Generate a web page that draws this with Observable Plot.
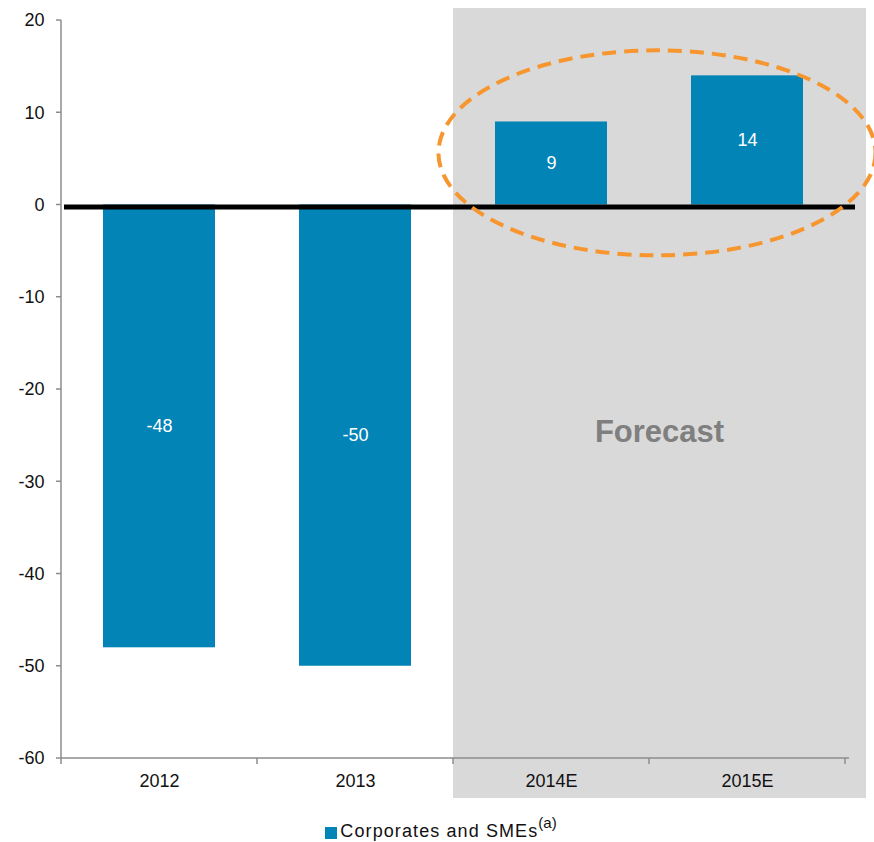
<!DOCTYPE html>
<html><head><meta charset="utf-8">
<script src="https://cdn.jsdelivr.net/npm/d3@7"></script>
<script src="https://cdn.jsdelivr.net/npm/@observablehq/plot@0.6"></script>
<style>
body{margin:0;background:#fff;font-family:"Liberation Sans",Arial,sans-serif;}
#chart svg{display:block;}
#legend{height:62px;display:flex;justify-content:center;align-items:center;font-size:18px;color:#111;padding-left:8px;}
#legend .sw{width:12px;height:12px;background:#0384b6;margin-right:3px;margin-top:3px;}
#legend .lt{letter-spacing:1.1px;line-height:20px;}
#legend sup{font-size:15px;letter-spacing:0;vertical-align:baseline;position:relative;top:-9px;}
</style></head><body>
<div id="chart"></div>
<div id="legend"></div>
<script>
const years = ["2012", "2013", "2014E", "2015E"];
const values = [-48, -50, 9, 14];
const forecastStart = "2014E";
const forecastLabel = "Forecast";
const yTicks = [20, 10, 0, -10, -20, -30, -40, -50, -60];
const seriesName = "Corporates and SMEs";
const seriesNote = "(a)";

const data = years.map((year, i) => ({year, value: values[i]}));
const BLUE = "#0384b6";
const NS = "http://www.w3.org/2000/svg";
function el(tag, attrs, text) {
  const e = document.createElementNS(NS, tag);
  for (const k in attrs) e.setAttribute(k, attrs[k]);
  if (text != null) e.textContent = text;
  return e;
}
function bandInfo(x) {
  const step = x(years[1]) - x(years[0]);
  const bw = typeof x.bandwidth === "function" ? x.bandwidth() : (x.bandwidth ?? step * 0.57);
  return {step, bw};
}

function backLayer(index, scales, vals, dims) {
  const {x, y} = scales;
  const {step, bw} = bandInfo(x);
  const g = el("g", {});
  const left = x(forecastStart) - (step - bw) / 2;
  const top = y(yTicks[0]) - 12;
  const bottom = y(yTicks[yTicks.length - 1]) + 40;
  g.appendChild(el("rect", {x: left, y: top, width: dims.width - 8 - left, height: bottom - top, fill: "#d9d9d9"}));
  return g;
}

function axisLayer(index, scales, vals, dims) {
  const {x, y} = scales;
  const {step, bw} = bandInfo(x);
  const g = el("g", {stroke: "#8c8c8c", "stroke-width": 1.5, fill: "none"});
  const x0 = dims.marginLeft;
  const yTop = y(yTicks[0]), yBot = y(yTicks[yTicks.length - 1]);
  g.appendChild(el("line", {x1: x0, x2: x0, y1: yTop, y2: yBot}));
  for (const t of yTicks) g.appendChild(el("line", {x1: x0 - 5, x2: x0, y1: y(t), y2: y(t)}));
  const xEnd = dims.width - dims.marginRight;
  g.appendChild(el("line", {x1: x0, x2: xEnd + 4, y1: yBot, y2: yBot}));
  for (let i = 0; i <= years.length; i++) {
    const bx = i < years.length ? x(years[i]) - (step - bw) / 2 : xEnd;
    g.appendChild(el("line", {x1: bx, x2: bx, y1: yBot, y2: yBot + 6}));
  }
  return g;
}

function frontLayer(index, scales, vals, dims) {
  const {x, y} = scales;
  const {step, bw} = bandInfo(x);
  const g = el("g", {});
  const x0 = dims.marginLeft;
  g.appendChild(el("line", {x1: x0 + 3, x2: dims.width - dims.marginRight + 10, y1: y(0) + 2.5, y2: y(0) + 2.5, stroke: "#000", "stroke-width": 5}));
  const c1 = x(years[2]) + bw / 2, c2 = x(years[3]) + bw / 2;
  const cx = (c1 + c2) / 2 + 8;
  const cy = y(5.6);
  g.appendChild(el("ellipse", {cx, cy, rx: step * 1.115, ry: 102.5, fill: "none", stroke: "#f7962f", "stroke-width": 4, "stroke-dasharray": "14 8"}));
  const fx = x(forecastStart) - (step - bw) / 2;
  const fcx = (fx + dims.width - 8) / 2;
  g.appendChild(el("text", {x: fcx, y: y(-24.9), "text-anchor": "middle", "dominant-baseline": "middle", fill: "#7f7f7f", "font-size": 31, "font-weight": "bold", "font-family": "Liberation Sans, Arial, sans-serif"}, forecastLabel));
  return g;
}

const chart = Plot.plot({
  width: 874,
  height: 800,
  marginLeft: 61,
  marginRight: 29,
  marginTop: 20,
  marginBottom: 42,
  style: {fontFamily: "Liberation Sans, Arial, sans-serif", fontSize: "18px", color: "#111", background: "#fff"},
  x: {domain: years, paddingInner: 0.43, paddingOuter: 0.215, label: null},
  y: {domain: [-60, 20], label: null},
  marks: [
    backLayer,
    axisLayer,
    Plot.barY(data, {x: "year", y: "value", fill: BLUE}),
    Plot.text(data, {x: "year", y: d => d.value / 2, text: d => String(d.value), fill: "white", fontSize: 18}),
    Plot.axisY(yTicks, {tickSize: 0, tickPadding: 17, fontSize: 18, tickFormat: d => String(d), label: null}),
    Plot.axisX({tickSize: 0, tickPadding: 16, fontSize: 18, label: null}),
    frontLayer
  ]
});
document.getElementById("chart").appendChild(chart);

const lg = document.getElementById("legend");
const sw = document.createElement("span"); sw.className = "sw"; lg.appendChild(sw);
const lt = document.createElement("span"); lt.className = "lt"; lt.textContent = seriesName;
const sp = document.createElement("sup"); sp.textContent = seriesNote; lt.appendChild(sp);
lg.appendChild(lt);
</script>
</body></html>
